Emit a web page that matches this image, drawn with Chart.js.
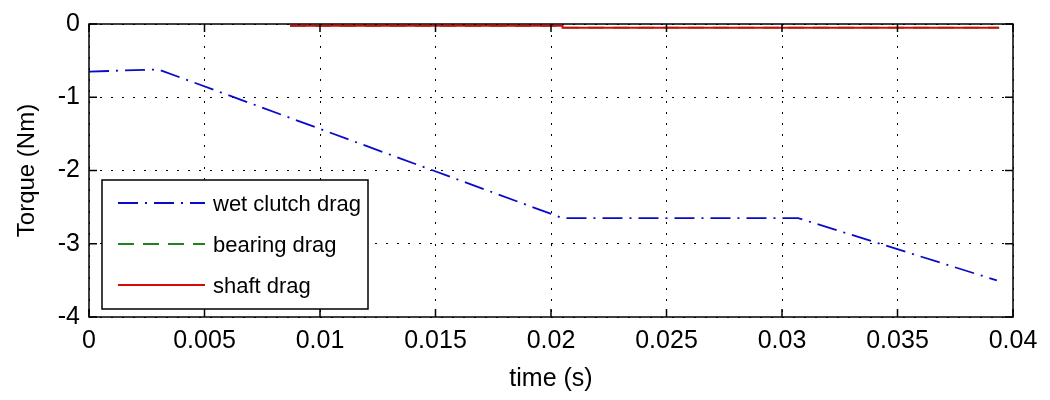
<!DOCTYPE html>
<html>
<head>
<meta charset="utf-8">
<script src="https://cdn.jsdelivr.net/npm/chart.js@4.4.0/dist/chart.umd.min.js"></script>
<style>
  html, body { margin: 0; padding: 0; background: #ffffff; }
  #wrap { width: 1050px; height: 400px; position: relative; }
</style>
</head>
<body>
<div id="wrap"><canvas id="c" width="1050" height="400"></canvas></div>
<script>
// ---- data ----
const seriesNames = ['wet clutch drag', 'bearing drag', 'shaft drag'];

const wetClutchTime   = [0, 0.003, 0.0205, 0.0307, 0.0393];
const wetClutchTorque = [-0.65, -0.62, -2.65, -2.65, -3.50];

const bearingTime     = [0.0087, 0.0205, 0.0205, 0.0394];
const bearingTorque   = [-0.025, -0.025, -0.05, -0.05];

const shaftTime       = [0.0087, 0.0205, 0.0205, 0.0394];
const shaftTorque     = [-0.025, -0.025, -0.05, -0.05];

const xTickLabels = ['0', '0.005', '0.01', '0.015', '0.02', '0.025', '0.03', '0.035', '0.04'];
const yTickLabels = ['-4', '-3', '-2', '-1', '0'];

const toPoints = (xs, ys) => xs.map((x, i) => ({ x: x, y: ys[i] }));

const FONT = "'Liberation Sans', Arial, sans-serif";

// frame box + inward tick marks (MATLAB style), and the legend box
const frameAndLegend = {
  id: 'frameAndLegend',
  afterDatasetsDraw(chart) {
    const ctx = chart.ctx;
    const a = chart.chartArea;
    const xs = chart.scales.x, ys = chart.scales.y;
    ctx.save();
    ctx.strokeStyle = '#000';
    ctx.lineWidth = 1.5;
    ctx.strokeRect(a.left, a.top, a.right - a.left, a.bottom - a.top);
    const tl = 8;
    ctx.beginPath();
    xs.ticks.forEach(t => {
      const px = xs.getPixelForValue(t.value);
      ctx.moveTo(px, a.bottom); ctx.lineTo(px, a.bottom - tl);
      ctx.moveTo(px, a.top); ctx.lineTo(px, a.top + tl);
    });
    ys.ticks.forEach(t => {
      const py = ys.getPixelForValue(t.value);
      ctx.moveTo(a.left, py); ctx.lineTo(a.left + tl, py);
      ctx.moveTo(a.right, py); ctx.lineTo(a.right - tl, py);
    });
    ctx.stroke();

    // legend
    const bx = a.left + 13, by = 180, bw = 266, bh = 129;
    ctx.fillStyle = '#fff';
    ctx.fillRect(bx, by, bw, bh);
    ctx.strokeStyle = '#000';
    ctx.lineWidth = 1.5;
    ctx.strokeRect(bx, by, bw, bh);
    const rows = [203, 244, 285];
    ctx.font = '22px ' + FONT;
    ctx.textBaseline = 'middle';
    chart.data.datasets.forEach((ds, i) => {
      const y = rows[i];
      ctx.save();
      ctx.strokeStyle = ds.borderColor;
      ctx.lineWidth = ds.borderWidth;
      ctx.setLineDash(ds.borderDash || []);
      ctx.beginPath();
      ctx.moveTo(bx + 16, y);
      ctx.lineTo(bx + 103, y);
      ctx.stroke();
      ctx.restore();
      ctx.fillStyle = '#000';
      ctx.fillText(ds.label, bx + 111, y + 2);
    });
    ctx.restore();
  }
};

new Chart(document.getElementById('c'), {
  type: 'line',
  data: {
    datasets: [
      {
        label: seriesNames[0],
        data: toPoints(wetClutchTime, wetClutchTorque),
        borderColor: 'rgb(10,10,200)',
        borderWidth: 1.8,
        borderDash: [20, 7, 2, 7],
        pointRadius: 0,
        fill: false,
        tension: 0,
        order: 2
      },
      {
        label: seriesNames[1],
        data: toPoints(bearingTime, bearingTorque),
        borderColor: 'rgb(30,130,30)',
        borderWidth: 1.8,
        borderDash: [16, 9],
        pointRadius: 0,
        fill: false,
        tension: 0,
        order: 1
      },
      {
        label: seriesNames[2],
        data: toPoints(shaftTime, shaftTorque),
        borderColor: 'rgb(215,10,10)',
        borderWidth: 2,
        pointRadius: 0,
        fill: false,
        tension: 0,
        order: 0
      }
    ]
  },
  options: {
    responsive: false,
    animation: false,
    devicePixelRatio: 1,
    layout: { padding: { left: 0, right: 37, top: 19, bottom: 0 } },
    plugins: {
      legend: { display: false },
      tooltip: { enabled: false }
    },
    scales: {
      x: {
        type: 'linear',
        min: 0, max: 0.04,
        afterFit(s) { s.height = 83; },
        ticks: {
          stepSize: 0.005,
          padding: 9,
          color: '#000',
          font: { family: FONT, size: 25 },
          maxRotation: 0,
          autoSkip: false,
          callback: (v, i) => xTickLabels[i]
        },
        grid: { color: '#000', lineWidth: 1, drawTicks: false },
        border: { display: false, dash: [2, 9] },
        title: {
          display: true,
          text: 'time (s)',
          color: '#000',
          font: { family: FONT, size: 25 },
          padding: { top: 0, bottom: 6 }
        }
      },
      y: {
        type: 'linear',
        min: -4, max: 0,
        afterFit(s) { s.width = 89; },
        ticks: {
          stepSize: 1,
          padding: 9,
          color: '#000',
          font: { family: FONT, size: 25 },
          callback: (v, i) => yTickLabels[i]
        },
        grid: { color: '#000', lineWidth: 1, drawTicks: false },
        border: { display: false, dash: [2, 9] },
        title: {
          display: true,
          text: 'Torque (Nm)',
          color: '#000',
          font: { family: FONT, size: 24 },
          padding: { top: 13, bottom: 0 }
        }
      }
    }
  },
  plugins: [frameAndLegend]
});
</script>
</body>
</html>
